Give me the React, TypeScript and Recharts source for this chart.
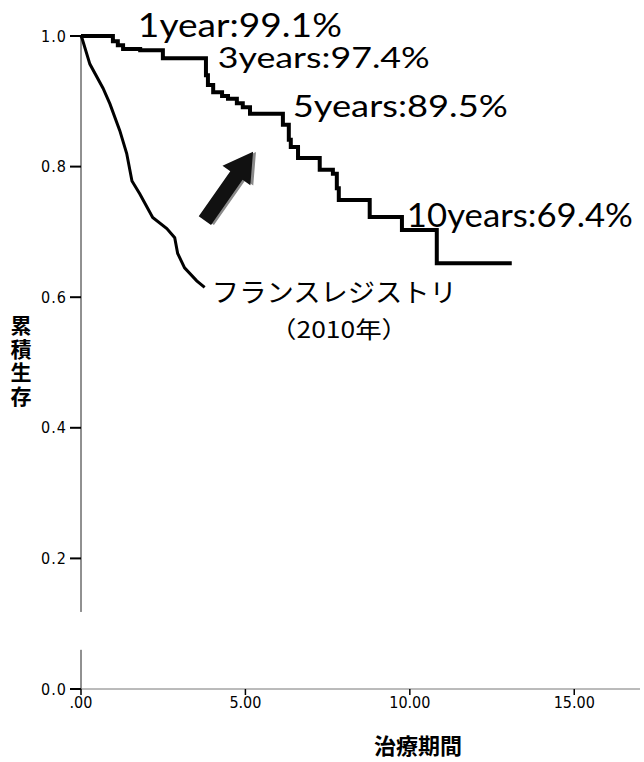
import React from 'react';
import { LineChart, Line, XAxis, YAxis, ReferenceDot, ReferenceLine } from 'recharts';

// study cohort (Kaplan-Meier steps)
const studyTimes = [0, 0.97, 1.12, 1.28, 1.8, 2.49, 3.8, 3.86, 4.02, 4.29, 4.47, 4.74, 4.92, 5.14, 6.14, 6.32, 6.38, 6.6, 7.26, 7.66, 7.78, 7.84, 8.78, 9.76, 10.82, 13.1];
const studySurv = [1.0, 0.992, 0.986, 0.98, 0.978, 0.966, 0.94, 0.925, 0.914, 0.908, 0.904, 0.897, 0.891, 0.881, 0.864, 0.841, 0.83, 0.813, 0.795, 0.789, 0.767, 0.749, 0.723, 0.703, 0.652, 0.652];

// French registry (2010)
const frTimes = [0, 0.03, 0.27, 0.67, 0.88, 1.18, 1.39, 1.55, 1.79, 2.18, 2.61, 2.85, 2.94, 3.15, 3.52, 3.76];
const frSurv = [1.0, 0.997, 0.957, 0.92, 0.896, 0.855, 0.82, 0.778, 0.758, 0.722, 0.705, 0.691, 0.667, 0.645, 0.625, 0.615];

const xTicks = [0, 5, 10, 15];
const xTickLabels = ['.00', '5.00', '10.00', '15.00'];
const yTicks = [0, 0.2, 0.4, 0.6, 0.8, 1.0];
const yTickLabels = ['0.0', '0.2', '0.4', '0.6', '0.8', '1.0'];

const notes = [
  { t: 1.73, s: 0.998, text: '1year:99.1%', size: 33, len: 204 },
  { t: 4.16, s: 0.951, text: '3years:97.4%', size: 28, len: 212 },
  { t: 6.44, s: 0.876, text: '5years:89.5%', size: 30, len: 215 },
  { t: 9.91, s: 0.708, text: '10years:69.4%', size: 32, len: 226 },
];
const registryNote = { t: 3.98, s: 0.592, text: 'フランスレジストリ', size: 26, len: 245 };
const yearNote = { t: 5.75, s: 0.538, text: '（2010年）', size: 23, len: 138 };

const studyData = studyTimes.map((t, i) => ({ t, s: studySurv[i] }));
const frData = frTimes.map((t, i) => ({ t, s: frSurv[i] }));

const tickFont = "'Liberation Sans Narrow', 'DejaVu Sans Condensed', 'Liberation Sans', sans-serif";
const noteFont = "Lato, 'Noto Sans', sans-serif";
const jpFont = "'Noto Sans CJK JP', sans-serif";

const Arrow = (props: any) => {
  const { cx, cy } = props;
  const pts = '-42,-7.5 13,-7.5 13,-17 42,0 13,17 13,7.5 -42,7.5';
  return (
    <g transform={`translate(${cx},${cy}) rotate(-55)`}>
      <polygon points={pts} fill="#8a8a8a" transform="translate(1.5,2.5)" />
      <polygon points={pts} fill="#111" />
    </g>
  );
};

const noteShape = (text: string, size: number, len: number, font: string) => (props: any) => (
  <text
    x={props.cx}
    y={props.cy}
    fontSize={size}
    fontFamily={font}
    fill="#000"
    textLength={len}
    lengthAdjust="spacingAndGlyphs"
  >
    {text}
  </text>
);

const App = () => {
  return (
    <div style={{ position: 'absolute', left: 0, top: 0, background: '#fff' }}>
      <LineChart width={644} height={762} margin={{ top: 36, right: 4, bottom: 0, left: 0 }}>
        <XAxis
          type="number"
          dataKey="t"
          domain={[0, 17]}
          ticks={xTicks}
          tickFormatter={(v: number) => xTickLabels[xTicks.indexOf(v)]}
          height={73}
          tickSize={6}
          tickMargin={2}
          stroke="#777"
          tickLine={{ stroke: '#000', strokeWidth: 1.5 }}
          tick={{ fill: '#000', fontSize: 16, fontFamily: tickFont }}
          label={{
            content: (p: any) => (
              <text
                x={p.viewBox.x + p.viewBox.width * 0.603}
                y={p.viewBox.y + 65}
                textAnchor="middle"
                fontSize={22}
                fontWeight="bold"
                fontFamily={jpFont}
                fill="#000"
              >
                治療期間
              </text>
            ),
          }}
        />
        <YAxis
          type="number"
          dataKey="s"
          domain={[0, 1]}
          ticks={yTicks}
          tickFormatter={(v: number) => yTickLabels[yTicks.indexOf(v)]}
          width={81}
          axisLine={false}
          tickSize={11}
          tickMargin={3}
          tickLine={{ stroke: '#000', strokeWidth: 2 }}
          tick={{ fill: '#000', fontSize: 16, fontFamily: tickFont, letterSpacing: 1 }}
          label={{
            content: () => (
              <text
                x={21}
                y={315}
                fontSize={21}
                fontWeight="bold"
                fontFamily={jpFont}
                fill="#000"
                letterSpacing={2.5}
                style={{ writingMode: 'vertical-rl' }}
              >
                累積生存
              </text>
            ),
          }}
        />
        <ReferenceLine segment={[{ x: 0, y: 1 }, { x: 0, y: 0.118 }]} stroke="#222" strokeWidth={1} />
        <ReferenceLine segment={[{ x: 0, y: 0.06 }, { x: 0, y: 0 }]} stroke="#222" strokeWidth={1} />
        <Line
          data={frData}
          dataKey="s"
          type="linear"
          stroke="#000"
          strokeWidth={3}
          dot={false}
          isAnimationActive={false}
        />
        <Line
          data={studyData}
          dataKey="s"
          type="stepAfter"
          stroke="#000"
          strokeWidth={4}
          dot={false}
          isAnimationActive={false}
        />
        <ReferenceDot x={4.5} y={0.77} r={1} ifOverflow="visible" shape={Arrow} />
        {notes.map((n) => (
          <ReferenceDot
            key={n.text}
            x={n.t}
            y={n.s}
            r={1}
            ifOverflow="visible"
            shape={noteShape(n.text, n.size, n.len, noteFont)}
          />
        ))}
        <ReferenceDot
          x={registryNote.t}
          y={registryNote.s}
          r={1}
          ifOverflow="visible"
          shape={noteShape(registryNote.text, registryNote.size, registryNote.len, jpFont)}
        />
        <ReferenceDot
          x={yearNote.t}
          y={yearNote.s}
          r={1}
          ifOverflow="visible"
          shape={noteShape(yearNote.text, yearNote.size, yearNote.len, jpFont)}
        />
      </LineChart>
    </div>
  );
};

export default App;
